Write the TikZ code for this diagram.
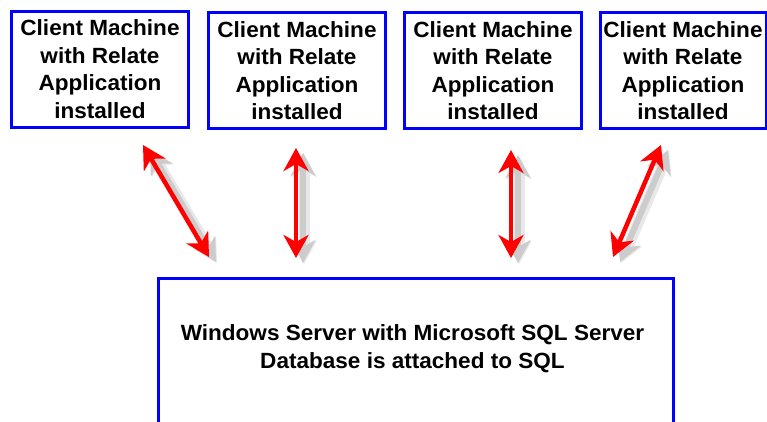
\documentclass[tikz,border=0pt]{standalone}
\usepackage{fontspec}
\setmainfont[FakeStretch=1.025]{Liberation Sans}
\usetikzlibrary{arrows.meta}
\tikzset{
  client/.style={draw=blue, line width=3pt, fill=white, minimum width=177pt, minimum height=116pt,
    align=center, inner sep=0pt, font=\bfseries\fontsize{22}{27.5}\selectfont},
  serverbox/.style={draw=blue, line width=3pt, minimum width=515pt, minimum height=200pt, anchor=north, inner sep=0pt},
  serverlabel/.style={align=center, inner sep=0pt, font=\bfseries\fontsize{22}{28}\selectfont},
  tipstyle/.style={{Stealth[length=23pt,width=25pt,inset=7pt]}-{Stealth[length=23pt,width=25pt,inset=7pt]}},
  link/.style={draw=red, line width=4.5pt, tipstyle},
  linkshadowA/.style={draw=black!9, line width=11pt, tipstyle, transform canvas={shift={(8,6)}}},
  linkshadowB/.style={draw=black!20, line width=6pt, tipstyle, transform canvas={shift={(7,5)}}},
}
\begin{document}
\begin{tikzpicture}[x=1pt, y=-1pt]
\useasboundingbox (0,0) rectangle (767,421);
\begin{scope}
\clip (0,0) rectangle (767,421);
\node[client] (c1) at (100,69) {Client Machine\\with Relate\\Application\\installed};
\node[client] (c2) at (297,70.5) {Client Machine\\with Relate\\Application\\installed};
\node[client] (c3) at (493,70.5) {Client Machine\\with Relate\\Application\\installed};
\node[client, minimum width=166pt] (c4) at (683,70.5) {Client Machine\\with Relate\\Application\\installed};
\node[serverbox] (server) at (415.5,277) {};
\node[serverlabel] (slabel) at (412.5,349) {Windows Server with Microsoft SQL Server\\Database is attached to SQL};
\coordinate (a1t) at (143,145); \coordinate (a1b) at (209,257);
\coordinate (a2t) at (296,148); \coordinate (a2b) at (296,258);
\coordinate (a3t) at (511,150); \coordinate (a3b) at (511,258);
\coordinate (a4t) at (661,145); \coordinate (a4b) at (613,257);
\foreach \t/\b in {a1t/a1b, a2t/a2b, a3t/a3b, a4t/a4b}{
  \draw[linkshadowA] (\t) -- (\b);
  \draw[linkshadowB] (\t) -- (\b);
}
\foreach \t/\b in {a1t/a1b, a2t/a2b, a3t/a3b, a4t/a4b}{
  \draw[link] (\t) -- (\b);
}
\end{scope}
\end{tikzpicture}
\end{document}
